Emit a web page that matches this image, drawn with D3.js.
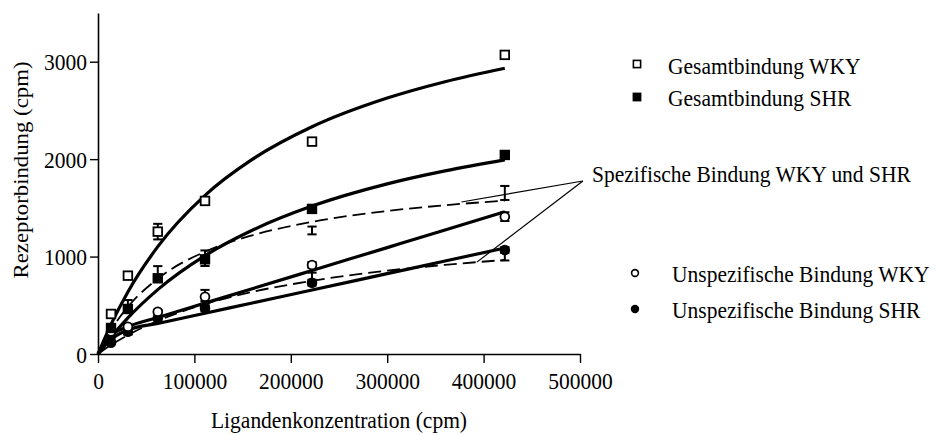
<!DOCTYPE html>
<html>
<head>
<meta charset="utf-8">
<script src="https://cdn.jsdelivr.net/npm/d3@7"></script>
<style>
  body { margin: 0; background: #fff; }
  svg { display: block; }
  svg text { font-family: "Liberation Serif", "Times New Roman", serif; }
</style>
</head>
<body>
<div id="chart"></div>
<script>
// Messpunkte: Ligandenkonzentration (cpm)
const conc = [13500, 31000, 62000, 111000, 222000, 422000];

const gesamtWKY    = [411, 804, 1256, 1571, 2180, 3070];
const gesamtWKYErr = [20, 20, 80, 30, 30, 30];
const gesamtSHR    = [267, 462, 777, 972, 1489, 2043];
const gesamtSHRErr = [20, 30, 30, 30, 40, 30];
const unspezWKY    = [230, 280, 434, 588, 914, 1410];
const unspezWKYErr = [15, 20, 20, 70, 30, 45];
const unspezSHR    = [116, 229, 366, 469, 732, 1068];
const unspezSHRErr = [15, 30, 20, 30, 30, 30];
// spezifische Bindung: nur Fehlerbalken
const spezWKY      = [181, 524, 822, 983, 1268, 1653];
const spezWKYErr   = [30, 30, 80, 80, 40, 72];
const spezSHR      = [151, 233, 411, 503, 790, 1010];
const spezSHRErr   = [20, 30, 30, 40, 45, 50];

// Kurvenverlauf
const fitConc      = [0, 13500, 31000, 62000, 111000, 160000, 222000, 300000, 360000, 422000];
const fitGesamtWKY = [0, 304, 637, 1102, 1628, 1997, 2332, 2627, 2795, 2933];
const fitGesamtSHR = [0, 173, 371, 661, 1010, 1270, 1518, 1746, 1879, 1992];
const fitUnspezWKY = [0, 190, 280, 374, 522, 670, 857, 1092, 1273, 1461];
const fitUnspezSHR = [0, 150, 246, 313, 418, 524, 657, 825, 954, 1088];
const fitSpezWKY   = [0, 246, 484, 773, 1050, 1218, 1356, 1468, 1527, 1574];
const fitSpezSHR   = [0, 92, 194, 341, 512, 637, 751, 855, 915, 965];

const xTicks = [0, 100000, 200000, 300000, 400000, 500000];
const yTicks = [0, 1000, 2000, 3000];

const width = 936, height = 435;
const font = "Liberation Serif";
const fontSize = 21.5, stretch = 1.1;

const svg = d3.select("#chart")
  .append("svg")
    .attr("width", width)
    .attr("height", height)
    .attr("font-family", font);

const x = d3.scaleLinear().domain([0, 500000]).range([98, 580]);
const y = d3.scaleLinear().domain([0, 3500]).range([354, 13]);

// axes
const xAxis = svg.append("g")
    .attr("transform", `translate(0,${y(0)})`)
    .call(d3.axisBottom(x).tickValues(xTicks).tickFormat(d3.format("d")).tickSize(9).tickSizeOuter(0));

const yAxis = svg.append("g")
    .attr("transform", `translate(${x(0)},0)`)
    .call(d3.axisLeft(y).tickValues(yTicks).tickFormat(d3.format("d")).tickSize(8).tickSizeOuter(0));

[xAxis, yAxis].forEach(a => {
  a.attr("font-family", font).attr("font-size", fontSize);
  a.select(".domain").attr("stroke", "#000").attr("stroke-width", 1.6);
  a.selectAll(".tick line").attr("stroke", "#000").attr("stroke-width", 1.4);
  a.selectAll(".tick text")
    .attr("fill", "#000")
    .attr("font-family", font)
    .attr("x", null).attr("y", null).attr("dy", null);
});
xAxis.selectAll(".tick text")
  .attr("text-anchor", "middle")
  .attr("transform", `translate(0,35) scale(1,${stretch})`);
yAxis.selectAll(".tick text")
  .attr("text-anchor", "end")
  .attr("transform", `translate(-11,8) scale(1,${stretch})`);

svg.append("text")
  .attr("text-anchor", "middle")
  .attr("transform", `translate(339,428) scale(1,${stretch})`)
  .attr("font-size", fontSize)
  .text("Ligandenkonzentration (cpm)");

svg.append("text")
  .attr("text-anchor", "middle")
  .attr("transform", `translate(28,170) rotate(-90) scale(1.06,1)`)
  .attr("font-size", fontSize)
  .text("Rezeptorbindung (cpm)");

// curves
const line = d3.line()
  .x(d => x(d[0]))
  .y(d => y(d[1]))
  .curve(d3.curveMonotoneX);

const curves = [
  { vals: fitGesamtWKY, dash: null },
  { vals: fitGesamtSHR, dash: null },
  { vals: fitUnspezWKY, dash: null },
  { vals: fitUnspezSHR, dash: null },
  { vals: fitSpezWKY, dash: "13,6" },
  { vals: fitSpezSHR, dash: "13,6" }
];

svg.selectAll("path.fit")
  .data(curves)
  .join("path")
    .attr("class", "fit")
    .attr("d", c => line(fitConc.map((cx, i) => [cx, c.vals[i]])))
    .attr("fill", "none")
    .attr("stroke", "#000")
    .attr("stroke-width", c => c.dash ? 1.8 : 3.2)
    .attr("stroke-dasharray", c => c.dash);

// annotation lines for the specific binding label
const annoAnchor = [503000, 1776];
const annoTargets = [[377000, 1560], [393000, 943]];
annoTargets.forEach(t => {
  svg.append("line")
    .attr("x1", x(annoAnchor[0])).attr("y1", y(annoAnchor[1]))
    .attr("x2", x(t[0])).attr("y2", y(t[1]))
    .attr("stroke", "#000")
    .attr("stroke-width", 1.2);
});

// error bars
const series = [
  { vals: spezWKY, err: spezWKYErr, marker: null },
  { vals: spezSHR, err: spezSHRErr, marker: null },
  { vals: unspezSHR, err: unspezSHRErr, marker: "circle", fill: "#000" },
  { vals: unspezWKY, err: unspezWKYErr, marker: "circle", fill: "#fff" },
  { vals: gesamtSHR, err: gesamtSHRErr, marker: "square", fill: "#000" },
  { vals: gesamtWKY, err: gesamtWKYErr, marker: "square", fill: "#fff" }
];

const capW = 4.6;
series.forEach(s => {
  const g = svg.append("g").attr("stroke", "#000").attr("stroke-width", 2);
  conc.forEach((c, i) => {
    const cx = x(c), lo = y(s.vals[i] - s.err[i]), hi = y(s.vals[i] + s.err[i]);
    g.append("line").attr("x1", cx).attr("x2", cx).attr("y1", lo).attr("y2", hi);
    g.append("line").attr("x1", cx - capW).attr("x2", cx + capW).attr("y1", lo).attr("y2", lo);
    g.append("line").attr("x1", cx - capW).attr("x2", cx + capW).attr("y1", hi).attr("y2", hi);
  });
});

// markers
series.filter(s => s.marker).forEach(s => {
  const g = svg.append("g");
  conc.forEach((c, i) => {
    if (s.marker === "square") {
      g.append("rect")
        .attr("x", x(c) - 4.3).attr("y", y(s.vals[i]) - 4.3)
        .attr("width", 8.6).attr("height", 8.6)
        .attr("fill", s.fill).attr("stroke", "#000").attr("stroke-width", 1.8);
    } else {
      g.append("circle")
        .attr("cx", x(c)).attr("cy", y(s.vals[i])).attr("r", 4.4)
        .attr("fill", s.fill).attr("stroke", "#000").attr("stroke-width", 1.8);
    }
  });
});

// legend
const legend = [
  { label: "Gesamtbindung WKY", marker: "square", fill: "#fff", mx: 637, my: 64, tx: 668, ty: 74 },
  { label: "Gesamtbindung SHR", marker: "square", fill: "#000", mx: 637, my: 97, tx: 668, ty: 106 },
  { label: "Unspezifische Bindung WKY", marker: "circle", fill: "#fff", mx: 635, my: 273, tx: 672, ty: 282 },
  { label: "Unspezifische Bindung SHR", marker: "circle", fill: "#000", mx: 635, my: 309, tx: 672, ty: 318 }
];

legend.forEach(l => {
  if (l.marker === "square") {
    svg.append("rect")
      .attr("x", l.mx - 3.6).attr("y", l.my - 3.6)
      .attr("width", 7.2).attr("height", 7.2)
      .attr("fill", l.fill).attr("stroke", "#000").attr("stroke-width", 1.6);
  } else {
    svg.append("circle")
      .attr("cx", l.mx).attr("cy", l.my).attr("r", 3.4)
      .attr("fill", l.fill).attr("stroke", "#000").attr("stroke-width", 1.6);
  }
  svg.append("text")
    .attr("transform", `translate(${l.tx},${l.ty}) scale(1,${stretch})`)
    .attr("font-size", fontSize)
    .text(l.label);
});

svg.append("text")
  .attr("transform", `translate(592,182) scale(1,${stretch})`)
  .attr("font-size", fontSize)
  .text("Spezifische Bindung WKY und SHR");
</script>
</body>
</html>
